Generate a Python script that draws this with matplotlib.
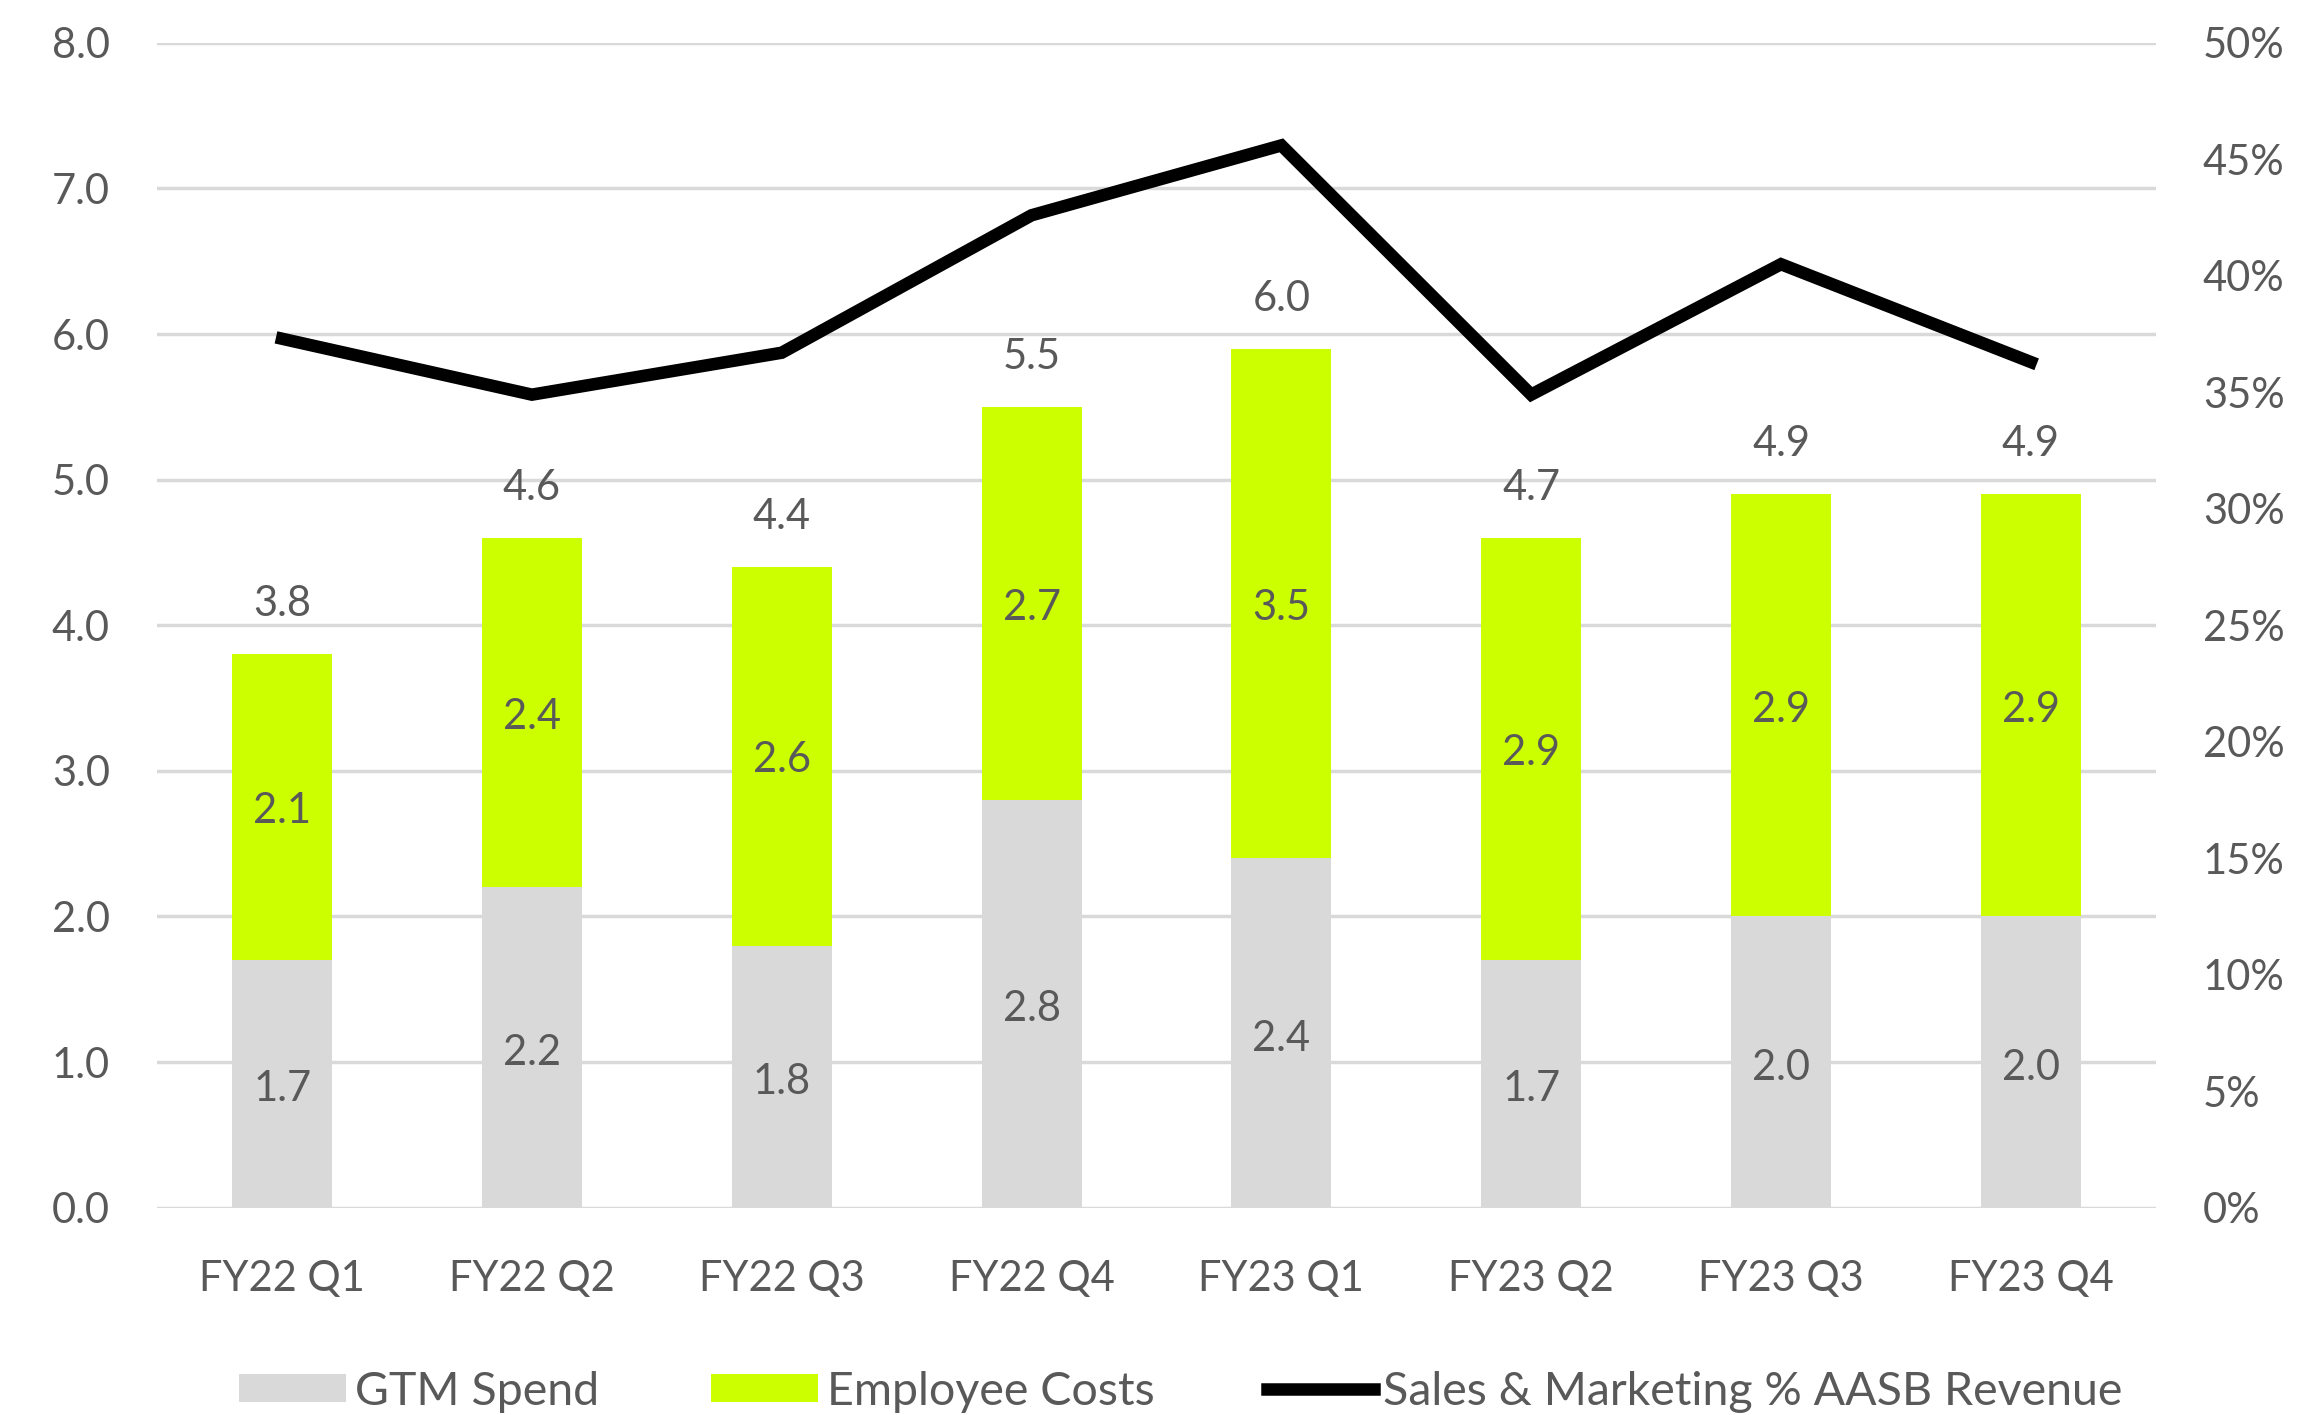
import matplotlib
matplotlib.use("Agg")
import matplotlib.pyplot as plt
import numpy as np
from matplotlib.patches import Patch
from matplotlib.lines import Line2D

categories = ["FY22 Q1", "FY22 Q2", "FY22 Q3", "FY22 Q4", "FY23 Q1", "FY23 Q2", "FY23 Q3", "FY23 Q4"]
gtm_spend = [1.7, 2.2, 1.8, 2.8, 2.4, 1.7, 2.0, 2.0]
employee_costs = [2.1, 2.4, 2.6, 2.7, 3.5, 2.9, 2.9, 2.9]
total_labels = [3.8, 4.6, 4.4, 5.5, 6.0, 4.7, 4.9, 4.9]
sm_pct = [37.3, 34.9, 36.7, 42.6, 45.6, 34.9, 40.5, 36.3]

TEXT = "#595959"
GRID = "#D9D9D9"
GRAY = "#D9D9D9"
GREEN = "#CCFF00"
FS = 30

plt.rcParams['font.family'] = ['Lato', 'DejaVu Sans']

fig = plt.figure(figsize=(23.15, 14.15), dpi=100)
ax = fig.add_axes([0.0679, 0.1465, 0.8633, 0.8232])
x = np.arange(len(categories))
w = 0.40

ax.bar(x, gtm_spend, w, color=GRAY, zorder=2)
ax.bar(x, employee_costs, w, bottom=gtm_spend, color=GREEN, zorder=2)

for i in range(len(x)):
    ax.annotate(f"{gtm_spend[i]:.1f}", (x[i], gtm_spend[i] / 2), xytext=(0, -4),
                textcoords="offset points", ha="center", va="center",
                fontsize=FS, color=TEXT, zorder=4)
    ax.annotate(f"{employee_costs[i]:.1f}", (x[i], gtm_spend[i] + employee_costs[i] / 2),
                xytext=(0, -3), textcoords="offset points",
                ha="center", va="center", fontsize=FS, color=TEXT, zorder=4)
    ax.annotate(f"{total_labels[i]:.1f}", (x[i], gtm_spend[i] + employee_costs[i]),
                xytext=(0, 36), textcoords="offset points", ha="center", va="center",
                fontsize=FS, color=TEXT, zorder=4)

ax.set_ylim(0, 8)
ax.set_xlim(-0.5, len(x) - 0.5)
ax.set_yticks(np.arange(0, 8.01, 1.0))
ax.set_yticklabels([f"{v:.1f}" for v in np.arange(0, 8.01, 1.0)])
ax.set_xticks(x)
ax.set_xticklabels(categories)
ax.grid(axis="y", color=GRID, linewidth=2.5, zorder=0)
ax.set_axisbelow(True)
for s in ax.spines.values():
    s.set_visible(False)
ax.tick_params(axis="both", length=0, labelsize=FS, colors=TEXT)
ax.tick_params(axis="y", pad=34)
ax.tick_params(axis="x", pad=38)

ax2 = ax.twinx()
ax2.plot(x, sm_pct, color="black", linewidth=9, solid_joinstyle="miter", zorder=5)
ax2.set_ylim(0, 50)
ax2.set_yticks(np.arange(0, 51, 5))
ax2.set_yticklabels([f"{v}%" for v in range(0, 51, 5)])
for s in ax2.spines.values():
    s.set_visible(False)
ax2.tick_params(axis="y", length=0, labelsize=FS, colors=TEXT, pad=34)

handles = [Patch(facecolor=GRAY, edgecolor="none", label="GTM Spend"),
           Patch(facecolor=GREEN, edgecolor="none", label="Employee Costs"),
           Line2D([0], [0], color="black", linewidth=9, label="Sales & Marketing % AASB Revenue")]
fig.legend(handles=handles, loc="center", bbox_to_anchor=(0.51, 0.0165), ncol=3, frameon=False,
           fontsize=33.5, labelcolor=TEXT, handlelength=2.3, handleheight=0.55, handletextpad=0.2,
           columnspacing=2.4)

fig.savefig("out.png", dpi=100)
